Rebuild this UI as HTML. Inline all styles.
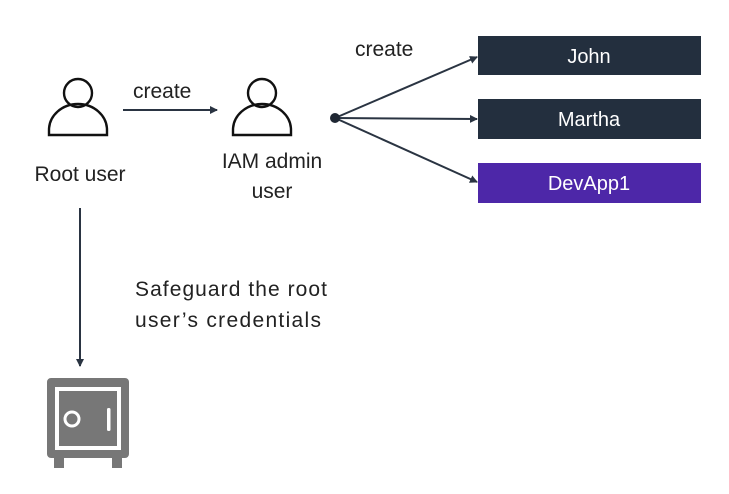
<!DOCTYPE html>
<html><head><style>body{margin:0;background:#fff}svg{display:block}text{font-family:"Liberation Sans",sans-serif;fill:#222}</style></head>
<body>
<svg width="729" height="494" viewBox="0 0 729 494" xmlns="http://www.w3.org/2000/svg">
<defs><marker id="a" markerWidth="8" markerHeight="8" refX="7" refY="4" orient="auto" markerUnits="userSpaceOnUse"><path d="M0,0 L8,4 L0,8 Z" fill="#2a3442"/></marker></defs>
<g fill="none" stroke="#111" stroke-width="2.4">
<circle cx="78" cy="93" r="14"/>
<path d="M49,135 V130 A29,26 0 0 1 107,130 V135 Z"/>
<circle cx="262" cy="93" r="14"/>
<path d="M233,135 V130 A29,26 0 0 1 291,130 V135 Z"/>
</g>
<g stroke="#2a3442" stroke-width="2">
<line x1="123" y1="110" x2="217" y2="110" marker-end="url(#a)"/>
<line x1="80" y1="208" x2="80" y2="366" marker-end="url(#a)"/>
<line x1="335" y1="118" x2="477" y2="57" marker-end="url(#a)"/>
<line x1="335" y1="118" x2="477" y2="119" marker-end="url(#a)"/>
<line x1="335" y1="118" x2="477" y2="182" marker-end="url(#a)"/>
</g>
<circle cx="335" cy="118" r="5" fill="#1f2733"/>
<text x="133" y="98" font-size="21">create</text>
<text x="355" y="56" font-size="21">create</text>
<text x="80" y="181" font-size="21" text-anchor="middle">Root user</text>
<text x="272" y="168" font-size="21" text-anchor="middle">IAM admin</text>
<text x="272" y="198" font-size="21" text-anchor="middle">user</text>
<text x="135" y="296" font-size="21" textLength="192">Safeguard the root</text>
<text x="135" y="327" font-size="21" textLength="186">user’s credentials</text>
<rect x="478" y="36" width="223" height="39" fill="#232f3e"/>
<rect x="478" y="99" width="223" height="40" fill="#232f3e"/>
<rect x="478" y="163" width="223" height="40" fill="#4d27a8"/>
<text x="589" y="63" font-size="20" text-anchor="middle" style="fill:#fff">John</text>
<text x="589" y="126" font-size="20" text-anchor="middle" style="fill:#fff">Martha</text>
<text x="589" y="190" font-size="20" text-anchor="middle" style="fill:#fff">DevApp1</text>
<g fill="#777">
<rect x="47" y="378" width="82" height="80" rx="4"/>
<rect x="54" y="455" width="10" height="13"/>
<rect x="112" y="455" width="10" height="13"/>
</g>
<rect x="55" y="387" width="66" height="63" fill="#fff"/>
<rect x="59" y="391" width="58" height="55" fill="#777"/>
<circle cx="72" cy="419" r="7" fill="none" stroke="#fff" stroke-width="3"/>
<rect x="107" y="408" width="3.5" height="23" rx="1.5" fill="#fff"/>
</svg>
</body></html>
